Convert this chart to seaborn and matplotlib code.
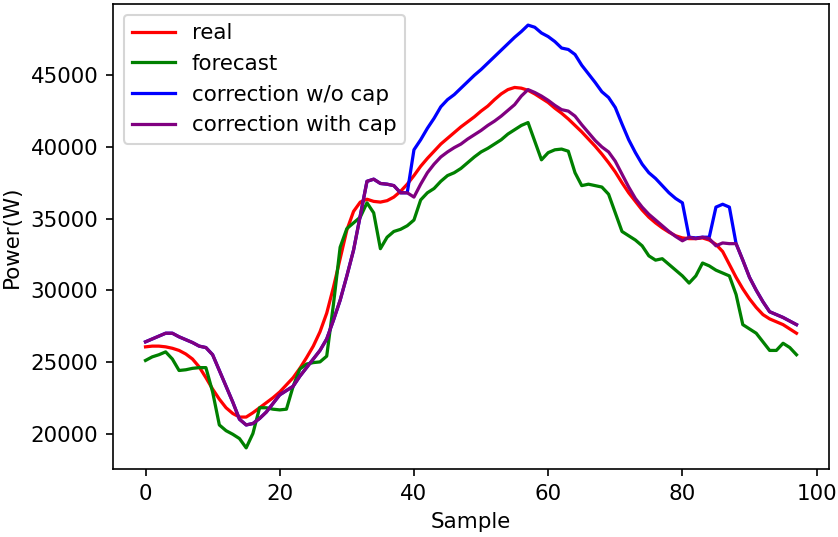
import numpy as np
import pandas as pd
import matplotlib
matplotlib.use("Agg")
import matplotlib.pyplot as plt
import seaborn as sns

real = [26050, 26100, 26100, 26050, 25950, 25800, 25550, 25200, 24650, 23900,
        23100, 22400, 21800, 21400, 21150, 21150, 21450, 21800, 22150, 22500,
        22900, 23400, 23900, 24550, 25300, 26100, 27100, 28400, 30200, 32200,
        34200, 35500, 36150, 36350, 36200, 36150, 36250, 36500, 36900, 37400,
        38000, 38650, 39200, 39700, 40200, 40600, 41000, 41400, 41750, 42100,
        42500, 42850, 43300, 43700, 44000, 44150, 44100, 43950, 43700, 43400,
        43100, 42700, 42350, 41950, 41500, 41050, 40550, 40050, 39500, 38900,
        38250, 37500, 36800, 36200, 35600, 35100, 34700, 34350, 34050, 33800,
        33650, 33600, 33600, 33650, 33500, 33200, 32700, 31800, 30900, 30100,
        29400, 28800, 28300, 28000, 27800, 27600, 27300, 27000]

forecast = [25100, 25350, 25500, 25700, 25200, 24400, 24450, 24550, 24600, 24600,
            22900, 20600, 20200, 19950, 19650, 19000, 20000, 21800, 21800, 21700,
            21650, 21700, 23300, 24500, 24850, 24950, 25000, 25400, 29000, 33000,
            34300, 34700, 35100, 36100, 35400, 32900, 33700, 34100, 34250, 34500,
            34900, 36300, 36800, 37100, 37600, 38000, 38200, 38500, 38900, 39300,
            39650, 39900, 40200, 40500, 40900, 41200, 41500, 41700, 40400, 39100,
            39600, 39800, 39850, 39700, 38200, 37300, 37400, 37300, 37200, 36700,
            35400, 34100, 33800, 33500, 33100, 32400, 32100, 32200, 31800, 31400,
            31000, 30500, 31000, 31900, 31700, 31400, 31200, 31000, 29700, 27600,
            27300, 27000, 26400, 25800, 25800, 26300, 26000, 25500]

with_cap = [26400, 26600, 26800, 27000, 27000, 26750, 26550, 26350, 26100, 26000,
            25500, 24400, 23300, 22200, 21000, 20600, 20700, 21050, 21500, 22100,
            22700, 23000, 23300, 24000, 24600, 25200, 25800, 26600, 27900, 29300,
            31000, 32800, 35200, 37600, 37750, 37450, 37400, 37300, 36800, 36800,
            36500, 37400, 38200, 38800, 39300, 39650, 39950, 40200, 40550, 40850,
            41150, 41500, 41800, 42150, 42550, 42950, 43550, 44000, 43800, 43550,
            43250, 42900, 42600, 42500, 42150, 41550, 41000, 40450, 40000, 39650,
            39000, 38100, 37200, 36400, 35800, 35300, 34900, 34500, 34100, 33750,
            33450, 33700, 33600, 33700, 33600, 33100, 33300, 33250, 33250, 32100,
            30900, 30000, 29200, 28500, 28300, 28100, 27850, 27600]

without_cap = with_cap[:40] + [
    39800, 40500, 41300, 42000, 42800, 43300, 43650, 44100, 44550, 45000,
    45400, 45850, 46300, 46750, 47200, 47650, 48050, 48500, 48350, 47950,
    47700, 47350, 46900, 46800, 46450, 45700, 45100, 44500, 43850, 43450,
    42750, 41600, 40500, 39600, 38800, 38200, 37800, 37300, 36800, 36400,
    36100, 33700, 33650, 33700, 33700, 35800, 36000, 35800] + with_cap[88:]

sample = np.arange(len(real))

df = pd.DataFrame({
    "Sample": sample,
    "real": real,
    "forecast": forecast,
    "correction w/o cap": without_cap,
    "correction with cap": with_cap,
})

series_colors = {
    "real": "red",
    "forecast": "green",
    "correction w/o cap": "blue",
    "correction with cap": "purple",
}

plt.rcParams["font.family"] = ["DejaVu Sans"]
plt.rcParams["font.size"] = 10.25

fig = plt.figure(figsize=(838 / 150, 537 / 150), dpi=150)
ax = fig.add_axes([0.1348, 0.1266, 0.8545, 0.866])

for name, col in series_colors.items():
    sns.lineplot(data=df, x="Sample", y=name, color=col, label=name,
                 linewidth=1.55, ax=ax)

ax.set_xlabel("Sample")
ax.set_ylabel("Power(W)")
ax.set_xticks([0, 20, 40, 60, 80, 100])
ax.legend(loc="upper left")

fig.savefig("out.png", dpi=150)
